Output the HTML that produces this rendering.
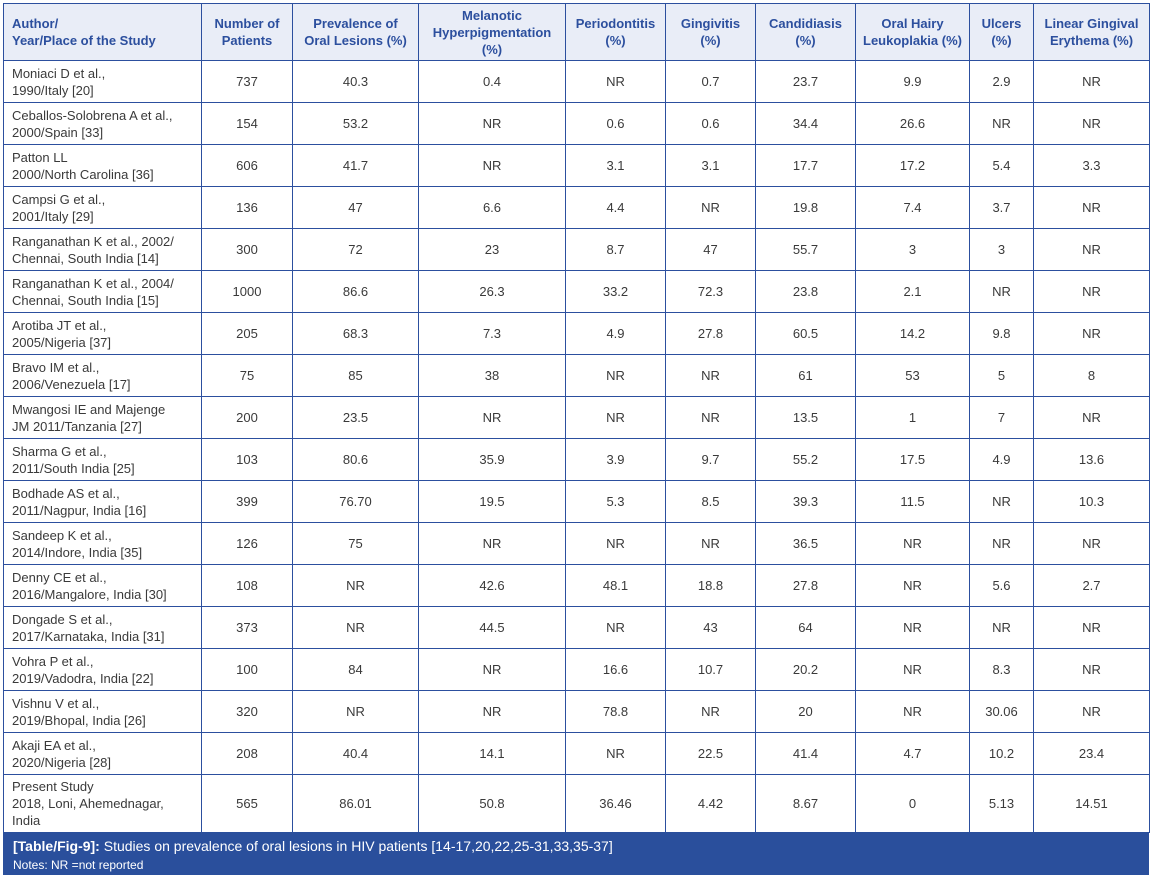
<!DOCTYPE html>
<html><head><meta charset="utf-8"><style>
body{margin:0;background:#fff;width:1150px;height:880px;overflow:hidden;font-family:"Liberation Sans",Arial,sans-serif;}
table{position:absolute;left:3px;top:3px;border-collapse:collapse;table-layout:fixed;width:1146px;}
td,th{border:1.5px solid #2c4f9e;font-size:13px;color:#3a3a3a;padding:0 8px;text-align:center;line-height:17px;}
th{background:#e9edf7;color:#2c4f9e;font-weight:bold;height:56px;padding:0 3px;}
th.l{padding-left:8px;}
th.l,td.l{text-align:left;}
td{height:41px;}
tr.p td{height:57px;}
.cap{position:absolute;left:3px;top:832px;width:1146px;height:43px;background:#2a4f9c;color:#fff;font-size:14px;}
.cap .a{position:absolute;left:10px;top:6px;}
.cap .b{position:absolute;left:10px;top:26px;font-size:12px;}
</style></head><body>
<table>
<colgroup><col style="width:198px"><col style="width:91px"><col style="width:126px"><col style="width:147px"><col style="width:100px"><col style="width:90px"><col style="width:100px"><col style="width:114px"><col style="width:64px"><col style="width:116px"></colgroup>
<tr><th class="l">Author/<br>Year/Place of the Study</th><th>Number of<br>Patients</th><th>Prevalence of<br>Oral Lesions (%)</th><th>Melanotic<br>Hyperpigmentation<br>(%)</th><th>Periodontitis<br>(%)</th><th>Gingivitis<br>(%)</th><th>Candidiasis<br>(%)</th><th>Oral Hairy<br>Leukoplakia (%)</th><th>Ulcers<br>(%)</th><th>Linear Gingival<br>Erythema (%)</th></tr>
<tr><td class="l">Moniaci D et al.,<br>1990/Italy [20]</td><td>737</td><td>40.3</td><td>0.4</td><td>NR</td><td>0.7</td><td>23.7</td><td>9.9</td><td>2.9</td><td>NR</td></tr>
<tr><td class="l">Ceballos-Solobrena A et al.,<br>2000/Spain [33]</td><td>154</td><td>53.2</td><td>NR</td><td>0.6</td><td>0.6</td><td>34.4</td><td>26.6</td><td>NR</td><td>NR</td></tr>
<tr><td class="l">Patton LL<br>2000/North Carolina [36]</td><td>606</td><td>41.7</td><td>NR</td><td>3.1</td><td>3.1</td><td>17.7</td><td>17.2</td><td>5.4</td><td>3.3</td></tr>
<tr><td class="l">Campsi G et al.,<br>2001/Italy [29]</td><td>136</td><td>47</td><td>6.6</td><td>4.4</td><td>NR</td><td>19.8</td><td>7.4</td><td>3.7</td><td>NR</td></tr>
<tr><td class="l">Ranganathan K et al., 2002/<br>Chennai, South India [14]</td><td>300</td><td>72</td><td>23</td><td>8.7</td><td>47</td><td>55.7</td><td>3</td><td>3</td><td>NR</td></tr>
<tr><td class="l">Ranganathan K et al., 2004/<br>Chennai, South India [15]</td><td>1000</td><td>86.6</td><td>26.3</td><td>33.2</td><td>72.3</td><td>23.8</td><td>2.1</td><td>NR</td><td>NR</td></tr>
<tr><td class="l">Arotiba JT et al.,<br>2005/Nigeria [37]</td><td>205</td><td>68.3</td><td>7.3</td><td>4.9</td><td>27.8</td><td>60.5</td><td>14.2</td><td>9.8</td><td>NR</td></tr>
<tr><td class="l">Bravo IM et al.,<br>2006/Venezuela [17]</td><td>75</td><td>85</td><td>38</td><td>NR</td><td>NR</td><td>61</td><td>53</td><td>5</td><td>8</td></tr>
<tr><td class="l">Mwangosi IE and Majenge<br>JM 2011/Tanzania [27]</td><td>200</td><td>23.5</td><td>NR</td><td>NR</td><td>NR</td><td>13.5</td><td>1</td><td>7</td><td>NR</td></tr>
<tr><td class="l">Sharma G et al.,<br>2011/South India [25]</td><td>103</td><td>80.6</td><td>35.9</td><td>3.9</td><td>9.7</td><td>55.2</td><td>17.5</td><td>4.9</td><td>13.6</td></tr>
<tr><td class="l">Bodhade AS et al.,<br>2011/Nagpur, India [16]</td><td>399</td><td>76.70</td><td>19.5</td><td>5.3</td><td>8.5</td><td>39.3</td><td>11.5</td><td>NR</td><td>10.3</td></tr>
<tr><td class="l">Sandeep K et al.,<br>2014/Indore, India [35]</td><td>126</td><td>75</td><td>NR</td><td>NR</td><td>NR</td><td>36.5</td><td>NR</td><td>NR</td><td>NR</td></tr>
<tr><td class="l">Denny CE et al.,<br>2016/Mangalore, India [30]</td><td>108</td><td>NR</td><td>42.6</td><td>48.1</td><td>18.8</td><td>27.8</td><td>NR</td><td>5.6</td><td>2.7</td></tr>
<tr><td class="l">Dongade S et al.,<br>2017/Karnataka, India [31]</td><td>373</td><td>NR</td><td>44.5</td><td>NR</td><td>43</td><td>64</td><td>NR</td><td>NR</td><td>NR</td></tr>
<tr><td class="l">Vohra P et al.,<br>2019/Vadodra, India [22]</td><td>100</td><td>84</td><td>NR</td><td>16.6</td><td>10.7</td><td>20.2</td><td>NR</td><td>8.3</td><td>NR</td></tr>
<tr><td class="l">Vishnu V et al.,<br>2019/Bhopal, India [26]</td><td>320</td><td>NR</td><td>NR</td><td>78.8</td><td>NR</td><td>20</td><td>NR</td><td>30.06</td><td>NR</td></tr>
<tr><td class="l">Akaji EA et al.,<br>2020/Nigeria [28]</td><td>208</td><td>40.4</td><td>14.1</td><td>NR</td><td>22.5</td><td>41.4</td><td>4.7</td><td>10.2</td><td>23.4</td></tr>
<tr class="p"><td class="l">Present Study<br>2018, Loni, Ahemednagar,<br>India</td><td>565</td><td>86.01</td><td>50.8</td><td>36.46</td><td>4.42</td><td>8.67</td><td>0</td><td>5.13</td><td>14.51</td></tr>
</table>
<div class="cap"><div class="a"><b>[Table/Fig-9]:</b> Studies on prevalence of oral lesions in HIV patients [14-17,20,22,25-31,33,35-37]</div><div class="b">Notes: NR =not reported</div></div>
</body></html>
